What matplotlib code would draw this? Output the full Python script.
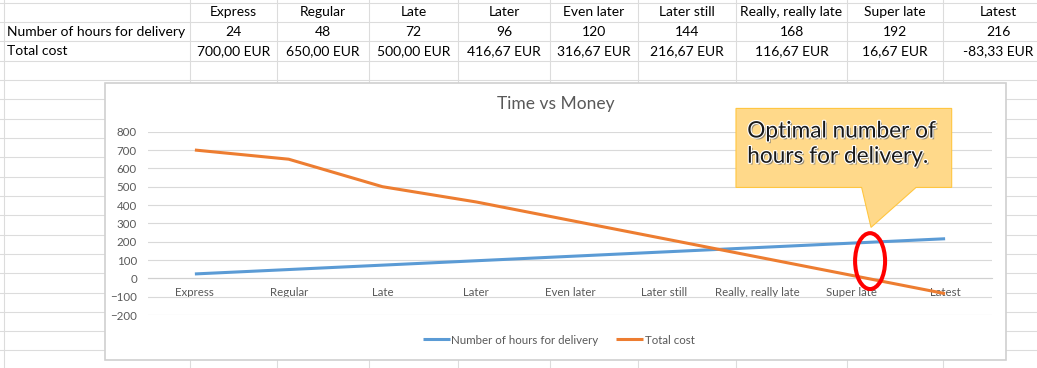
import matplotlib.pyplot as plt
import matplotlib.patheffects as pe
from matplotlib.lines import Line2D
from matplotlib.patches import Rectangle, Ellipse, Polygon

# data
categories = ["Express", "Regular", "Late", "Later", "Even later", "Later still",
              "Really, really late", "Super late", "Latest"]
hours = [24, 48, 72, 96, 120, 144, 168, 192, 216]
total_cost = [700.00, 650.00, 500.00, 416.67, 316.67, 216.67, 116.67, 16.67, -83.33]
row_labels = ["Number of hours for delivery", "Total cost"]
y_ticks = [-200, -100, 0, 100, 200, 300, 400, 500, 600, 700, 800]

plt.rcParams['font.family'] = ['Lato', 'DejaVu Sans']

W, H = 1037, 368
fig = plt.figure(figsize=(W / 100, H / 100), dpi=100)
fig.patch.set_facecolor('white')


def fx(px):
    return px / W


def fy(py):
    return 1 - py / H


# spreadsheet grid
grid_col = '#DCDCDC'
col_lines = [4, 190, 277, 369, 458, 550, 638, 736, 847, 943]
for x in col_lines:
    fig.add_artist(Line2D([fx(x), fx(x)], [0, 1], color=grid_col, lw=0.8, zorder=0.1))
for k in range(20):
    y = 2.7 + 19.32 * k
    fig.add_artist(Line2D([0, 1], [fy(y), fy(y)], color=grid_col, lw=0.8, zorder=0.1))

# table text
col_edges = col_lines[1:] + [1053]
centers = [(a + b) / 2 for a, b in zip(col_edges[:-1], col_edges[1:])]
fs_cell = 10
for cx, cat, h, c in zip(centers, categories, hours, total_cost):
    fig.text(fx(cx), fy(12.5), cat, ha='center', va='center', fontsize=fs_cell, color='black')
    fig.text(fx(cx), fy(32), str(h), ha='center', va='center', fontsize=fs_cell, color='black')
    cost_str = f"{c:.2f}".replace('.', ',') + " EUR"
    fig.text(fx(cx), fy(51.3), cost_str, ha='center', va='center', fontsize=fs_cell, color='black')
fig.text(fx(7), fy(32), row_labels[0], ha='left', va='center', fontsize=fs_cell, color='black')
fig.text(fx(7), fy(51.3), row_labels[1], ha='left', va='center', fontsize=fs_cell, color='black')

# chart box
fig.add_artist(Rectangle((fx(105), fy(360)), fx(1006) - fx(105), fy(83) - fy(360),
                         transform=fig.transFigure, facecolor='white',
                         edgecolor='#D0D0D0', lw=1.2, zorder=0.5))

# plot area
ax = fig.add_axes([fx(148), fy(315), fx(992) - fx(148), fy(131.7) - fy(315)])
ax.set_zorder(1)
ax.patch.set_alpha(0)

x = list(range(len(categories)))
blue = '#5B9BD5'
orange = '#ED7D31'
ax.plot(x, hours, color=blue, lw=2.2, label=row_labels[0], solid_capstyle='butt', zorder=3)
ax.plot(x, total_cost, color=orange, lw=2.2, label=row_labels[1], solid_capstyle='butt', zorder=3)

ax.set_xlim(-0.5, len(categories) - 0.5)
ax.set_ylim(-200, 800)
ax.set_yticks(y_ticks)
ax.yaxis.grid(True, color='#D9D9D9', lw=0.8)
ax.set_axisbelow(True)
for s in ['left', 'right', 'top']:
    ax.spines[s].set_visible(False)
ax.spines['bottom'].set_position(('data', 0))
ax.spines['bottom'].set_color('#D0D0D0')
ax.spines['bottom'].set_linewidth(0.8)
ax.set_xticks(x)
ax.set_xticklabels(categories)
ax.tick_params(axis='x', length=0, pad=6.5, labelsize=8.3, labelcolor='#595959')
ax.tick_params(axis='y', length=0, pad=8, labelsize=8.3, labelcolor='#595959')

fig.text(fx(556), fy(104), "Time vs Money", ha='center', va='center',
         fontsize=12.5, color='#595959')

fig.legend(loc='center', bbox_to_anchor=(fx(558.5), fy(340)), ncol=2, frameon=False,
           fontsize=8.3, labelcolor='#595959', handlelength=2.35, handletextpad=0.15,
           columnspacing=1.5)

# callout
box = [(5.77, 927), (8.07, 927), (8.07, 496), (7.69, 496), (7.21, 278),
       (7.11, 496), (5.77, 496)]
ax.add_patch(Polygon(box, closed=True, facecolor='#FFD98A', edgecolor='#FFC640',
                     lw=0.8, clip_on=False, zorder=5))
ax.text(5.89, 735, "Optimal number of\nhours for delivery.", ha='left', va='center',
        fontsize=16.3, color='#1A1A1A', linespacing=1.25, zorder=6, clip_on=False,
        path_effects=[pe.withSimplePatchShadow(offset=(1.3, -1.3), shadow_rgbFace='#707070', alpha=0.7),
                      pe.withStroke(linewidth=1.6, foreground='white')])

# highlight ring
ax.add_patch(Ellipse((7.2, 94), 0.32, 305, fill=False, edgecolor='#FF0000', lw=2.9,
                     clip_on=False, zorder=7))

fig.savefig('out.png', dpi=100)
